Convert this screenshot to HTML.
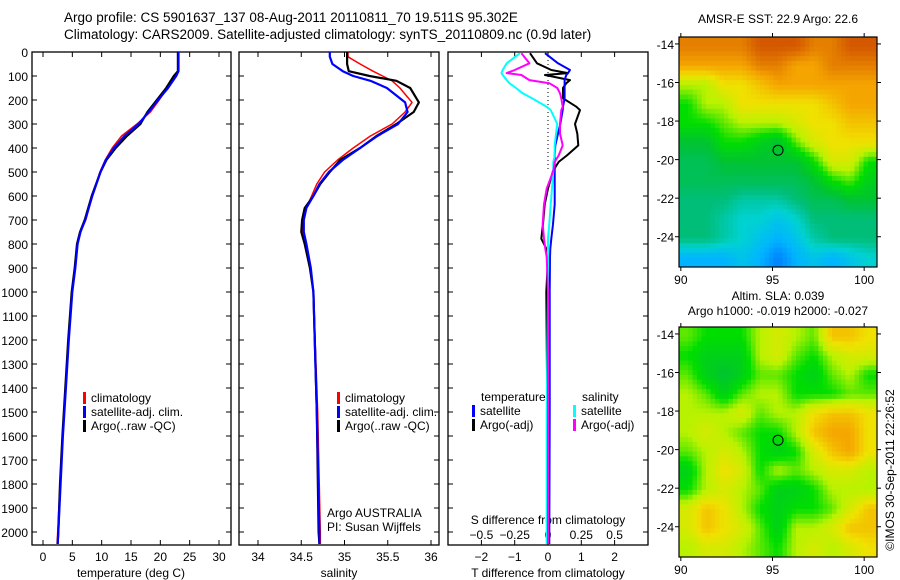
<!DOCTYPE html>
<html><head><meta charset="utf-8"><style>
html,body{margin:0;padding:0;background:#fff;}
svg{display:block;font-family:"Liberation Sans",sans-serif;}
</style></head><body>
<svg id="fig" width="900" height="580" viewBox="0 0 900 580" xmlns="http://www.w3.org/2000/svg">
<text x="64" y="22" font-size="13.5">Argo profile: CS 5901637_137 08-Aug-2011 20110811_70 19.511S 95.302E</text>
<text x="64" y="39" font-size="13.5">Climatology: CARS2009. Satellite-adjusted climatology: synTS_20110809.nc (0.9d later)</text>
<text x="778" y="23" font-size="12" text-anchor="middle">AMSR-E SST: 22.9 Argo: 22.6</text>
<text x="778" y="300" font-size="12" text-anchor="middle">Altim. SLA: 0.039</text>
<text x="778" y="315" font-size="12" text-anchor="middle">Argo h1000: -0.019 h2000: -0.027</text>
<text transform="translate(894,470) rotate(-90)" font-size="12" text-anchor="middle">©IMOS 30-Sep-2011 22:26:52</text>
</svg>
<script>
// ---------- data ----------
const tDepth = [0,80,100,150,200,250,300,350,400,450,500,600,700,750,800,900,1000,1200,1400,1600,1800,2000,2050];
const tArgo  = [23,23,22.3,21,19.4,17.8,16.6,14.3,12.4,10.8,9.8,8.3,7.1,6.3,5.8,5.4,4.9,4.3,3.8,3.3,2.9,2.6,2.5];
const tClim  = [23.1,23.1,22.4,21.2,19.8,18.3,16.0,13.4,11.8,10.6,9.7,8.4,7.3,6.4,5.9,5.4,4.9,4.3,3.9,3.3,2.9,2.5,2.4];
const tSat   = [23.1,23.1,22.7,21.3,19.6,18.0,16.3,13.9,12.1,10.7,9.8,8.4,7.2,6.4,5.9,5.5,5.0,4.4,3.9,3.4,3.0,2.6,2.5];
const sDepth = [0,20,50,80,100,120,150,210,250,300,350,400,450,500,550,600,650,700,750,800,900,1000,1500,2000,2050];
const sArgo  = [35.03,35.03,35.03,35.05,35.29,35.6,35.76,35.86,35.8,35.6,35.37,35.18,34.95,34.83,34.72,34.64,34.54,34.51,34.5,34.54,34.6,34.64,34.68,34.7,34.71];
const sClim  = [35.04,35.04,35.18,35.33,35.44,35.55,35.64,35.78,35.7,35.55,35.3,35.1,34.92,34.77,34.68,34.62,34.56,34.52,34.52,34.56,34.61,34.64,34.69,34.72,34.72];
const sSat   = [34.83,34.83,34.86,34.98,35.1,35.3,35.49,35.7,35.73,35.62,35.38,35.18,34.98,34.82,34.71,34.64,34.56,34.53,34.53,34.56,34.61,34.64,34.68,34.71,34.71];
const dDepth = [5,47,75,88,96,117,130,150,172,193,228,242,300,340,389,431,458,496,569,635,717,778,819,855,1000,1500,2000,2050];
const dTsat  = [-0.09,0.3,0.66,0.6,0.55,0.5,0.5,0.5,0.5,0.5,0.45,0.44,0.37,0.3,0.22,0.2,0.2,0.2,0.2,0.2,0.15,0.1,0.07,0.06,0.05,0.05,0.04,0.04];
const dTargo = [-0.54,-0.33,0.1,0.6,-0.09,0.66,0.55,0.45,0.45,0.45,0.85,0.96,0.81,0.88,0.91,0.57,0.32,0.15,0.0,-0.1,-0.15,-0.2,-0.05,0.0,-0.05,-0.02,0.0,0.0];
const dSsat  = [-0.21,-0.31,-0.34,-0.35,-0.34,-0.31,-0.29,-0.24,-0.19,-0.12,-0.01,0.02,0.07,0.06,0.05,0.05,0.04,0.04,0.03,0.02,0.01,0.0,0.0,0.0,0.0,-0.01,-0.01,-0.01];
const dSargo = [-0.2,-0.14,-0.25,-0.31,-0.2,-0.14,0.01,0.07,0.09,0.1,0.11,0.1,0.09,0.09,0.11,0.08,0.05,0.04,-0.01,-0.03,-0.04,-0.03,-0.02,-0.01,0.0,0.0,0.0,0.0];
const depthTicks = [0,100,200,300,400,500,600,700,800,900,1000,1100,1200,1300,1400,1500,1600,1700,1800,1900,2000];
const tempTicks = [0,5,10,15,20,25,30];
const salTicks = [34,34.5,35,35.5,36];
const tdTicks = [-2,-1,0,1,2];
const sdTicks = [-0.5,-0.25,0,0.25,0.5];
const sdLabels = ["\u22120.5","\u22120.25","0","0.25","0.5"];
const lonTicks = [90,95,100];
const latTicks = [-14,-16,-18,-20,-22,-24];
const sstGrid = [
[9.5,9.5,9.5,9.5,10,10,10,9.5,9.5,10,10],
[9,9,9,9,9.5,9.5,9,9,9.5,9.5,9.5],
[7,7,8,8,8.5,9,9,9,9,9,9],
[6,7,7,8,8,8,8,8,8.5,9,9],
[6,6,6.5,7,7,7,7.5,8,8,8.5,8.5],
[5,5,6,6,5.5,5,6.5,7.5,8,8,8],
[4.5,4.5,5,5,5,5,5,6,7.5,7.5,6],
[4.5,4.5,4.5,4.5,4.5,4.5,4.5,5,6,6.5,5.5],
[4,4,4,3.5,3.5,3.5,4,4.5,4.5,5,5],
[4,4,3.5,3,3,2.5,3,4,4,4,4],
[4,4,3.5,3,2.5,2,2.5,3.5,4,4,4],
[2,2,2,2.5,2,1,2,2.5,2,2.5,3]];
const slaGrid = [
[6.5,6,6,6,7,7.5,7,6.5,8.5,8.5,8],
[6,5.5,5.5,5.5,7,7.5,6.5,6,7,7.5,7.5],
[6.5,5.5,5,5.5,6.5,6.5,6,5.5,6.5,7,6],
[7,6.5,5.5,6.5,7,7,6,6,6,6.5,6.5],
[7,7,7,7.5,6.5,7,7,8,8.5,8.5,8],
[7,7.5,7,6.5,6,6,7,8.5,9,9,8],
[6.5,7,7.5,7,6,5.5,6,7.5,8.5,9,8],
[5.5,7,8,7.5,6,7,6.5,7,7.5,7.5,7],
[6,7,7.5,7,6.5,5.5,5.5,6,7,7,7],
[7.5,8.5,8,7,6,5.5,6,6,6.5,7.5,8.5],
[7.5,8.5,8,7.5,6.5,5.5,7,7,7.5,8.5,8.5],
[7,7.5,7.5,7,6.5,6,7,7.5,7,7.5,8]];
const argoLon = 95.302, argoLat = -19.511;

// ---------- helpers ----------
const NS="http://www.w3.org/2000/svg";
const svg=document.getElementById('fig');
function mk(tag,attrs,parent){const e=document.createElementNS(NS,tag);for(const k in attrs)e.setAttribute(k,attrs[k]);(parent||svg).appendChild(e);return e;}
function txt(s,x,y,size,anchor,parent){const t=mk('text',{x:x,y:y,'font-size':size,'text-anchor':anchor||'start'},parent);t.textContent=s;return t;}
const Y0=52, YPX=0.24;
const yD=d=>Y0+d*YPX;
const PB=545;
function lin(v0,p0,v1,p1){return v=>p0+(v-v0)*(p1-p0)/(v1-v0);}
const xT=lin(0,43,30,219);
const xS=lin(34,258,36,431);
const xTd=lin(0,548,1,581.3);
const xSd=lin(0,548,0.25,581.3);

function frame(x0,x1,name){
  const g=mk('g',{});
  
  
  mk('rect',{x:x0,y:Y0,width:x1-x0,height:PB-Y0,fill:'#fff',stroke:'#000','stroke-width':1.3},g);
  depthTicks.forEach(d=>{const y=yD(d);
    mk('line',{x1:x0,y1:y,x2:x0+5,y2:y,stroke:'#000'},g);
    mk('line',{x1:x1,y1:y,x2:x1-5,y2:y,stroke:'#000'},g);});
  return g;
}
function line(xs,ds,sc,color,w,name,g){
  const pts=xs.map((v,i)=>sc(v).toFixed(1)+','+yD(ds[i]).toFixed(1)).join(' ');
  const p=mk('polyline',{points:pts,fill:'none',stroke:color,'stroke-width':w,'stroke-linejoin':'round'},g);
  
  
}
function legend(x,y,items,g){
  items.forEach((it,i)=>{
    mk('rect',{x:x,y:y+i*14-10,width:3,height:12,fill:it[1]},g);
    const t=txt(it[0],x+8,y+i*14,12,'start',g);
    
    
  });
}

// ---------- panel 1 ----------
const g1=frame(32,231,'temperature-panel');
depthTicks.forEach(d=>{const t=txt(String(d),28,yD(d)+5,12,'end',g1);
  
  });
tempTicks.forEach(v=>{const x=xT(v);
  mk('line',{x1:x,y1:PB,x2:x,y2:PB-5,stroke:'#000'},g1);
  mk('line',{x1:x,y1:Y0,x2:x,y2:Y0+5,stroke:'#000'},g1);
  txt(String(v),x,PB+16,12,'middle',g1);});
const xl1=txt('temperature (deg C)',131,577,12,'middle',g1);


line(tClim,tDepth,xT,'#f00',1.5,'temp-climatology-line',g1);
line(tArgo,tDepth,xT,'#000',2.2,'temp-argo-line',g1);
line(tSat,tDepth,xT,'#00f',2.2,'temp-satellite-line',g1);
legend(83,402,[['climatology','#f00'],['satellite-adj. clim.','#00f'],['Argo(..raw -QC)','#000']],g1);

// ---------- panel 2 ----------
const g2=frame(239,439,'salinity-panel');
salTicks.forEach(v=>{const x=xS(v);
  mk('line',{x1:x,y1:PB,x2:x,y2:PB-5,stroke:'#000'},g2);
  mk('line',{x1:x,y1:Y0,x2:x,y2:Y0+5,stroke:'#000'},g2);
  txt(String(v),x,PB+16,12,'middle',g2);});
const xl2=txt('salinity',339,577,12,'middle',g2);


line(sClim,sDepth,xS,'#f00',1.5,'sal-climatology-line',g2);
line(sArgo,sDepth,xS,'#000',2.2,'sal-argo-line',g2);
line(sSat,sDepth,xS,'#00f',2.2,'sal-satellite-line',g2);
legend(337,402,[['climatology','#f00'],['satellite-adj. clim.','#00f'],['Argo(..raw -QC)','#000']],g2);
txt('Argo AUSTRALIA',327,517,12,'start',g2);
txt('PI: Susan Wijffels',327,531,12,'start',g2);

// ---------- panel 3 ----------
const g3=frame(448,648,'difference-panel');
tdTicks.forEach(v=>{const x=xTd(v);
  mk('line',{x1:x,y1:PB,x2:x,y2:PB-5,stroke:'#000'},g3);
  mk('line',{x1:x,y1:Y0,x2:x,y2:Y0+5,stroke:'#000'},g3);
  txt(String(v).replace('-','\u2212'),x,PB+16,12,'middle',g3);});
sdTicks.forEach((v,i)=>{txt(sdLabels[i],xSd(v),539,12,'middle',g3);});
txt('S difference from climatology',548,524,12,'middle',g3);
const xl3=txt('T difference from climatology',548,577,12,'middle',g3);


mk('line',{x1:xTd(0),y1:Y0,x2:xTd(0),y2:yD(500),stroke:'#000','stroke-dasharray':'1,3'},g3);
line(dTargo,dDepth,xTd,'#000',2,'tdiff-argo-line',g3);
line(dTsat,dDepth,xTd,'#00f',2,'tdiff-satellite-line',g3);
line(dSsat,dDepth,xSd,'#0ff',2,'sdiff-satellite-line',g3);
line(dSargo,dDepth,xSd,'#f0f',2,'sdiff-argo-line',g3);
txt('temperature',481,401,12,'start',g3);
txt('salinity',582,401,12,'start',g3);
legend(472,415,[['satellite','#00f'],['Argo(-adj)','#000']],g3);
legend(573,415,[['satellite','#0ff'],['Argo(-adj)','#f0f']],g3);

// ---------- maps ----------
const cmapStops=[[0,[0,40,200]],[1,[0,130,255]],[2,[0,180,255]],[3,[0,210,210]],[4,[0,190,120]],[5,[0,195,50]],[6,[0,222,0]],[7,[185,242,0]],[8,[240,225,0]],[9,[245,165,0]],[10,[212,88,0]]];
function cmap(v){v=Math.max(0,Math.min(10,v));const i=Math.min(9,Math.floor(v));const f=v-i;
  const a=cmapStops[i][1],b=cmapStops[i+1][1];
  return 'rgb('+a.map((c,k)=>Math.round(c+(b[k]-c)*f)).join(',')+')';}
function sample(grid,r,c){ // bilinear in cell-center coordinates
  const nr=grid.length,nc=grid[0].length;
  r=Math.max(0,Math.min(nr-1,r));c=Math.max(0,Math.min(nc-1,c));
  const r0=Math.floor(r),c0=Math.floor(c),r1=Math.min(nr-1,r0+1),c1=Math.min(nc-1,c0+1);
  const fr=r-r0,fc=c-c0;
  return grid[r0][c0]*(1-fr)*(1-fc)+grid[r0][c1]*(1-fr)*fc+grid[r1][c0]*fr*(1-fc)+grid[r1][c1]*fr*fc;
}
function mapPanel(grid,top,bottom,name,ptName){
  const x0=679,x1=877,lon0=89.9,lon1=100.7,lat0=-13.64,lat1=-25.57;
  const xL=lin(lon0,x0,lon1,x1), yL=lin(lat0,top,lat1,bottom);
  const g=mk('g',{});
  
  
  const nr=grid.length,nc=grid[0].length,S=4;
  const dlon=(lon1-lon0)/(nc*S), dlat=(lat1-lat0)/(nr*S);
  for(let r=0;r<nr*S;r++)for(let c=0;c<nc*S;c++){
    const v=sample(grid,(r+0.5)/S-0.5,(c+0.5)/S-0.5);
    const xa=xL(lon0+c*dlon), xb=xL(lon0+(c+1)*dlon), ya=yL(lat0+r*dlat), yb=yL(lat0+(r+1)*dlat);
    const cell=mk('rect',{x:xa.toFixed(2),y:ya.toFixed(2),width:(xb-xa+0.5).toFixed(2),height:(yb-ya+0.5).toFixed(2),fill:cmap(v)},g);
    
    
  }
  mk('rect',{x:x0,y:top,width:x1-x0,height:bottom-top,fill:'none',stroke:'#000','stroke-width':1.2},g);
  lonTicks.forEach(l=>{const x=xL(l);
    mk('line',{x1:x,y1:bottom,x2:x,y2:bottom+4,stroke:'#000'},g);
    mk('line',{x1:x,y1:top,x2:x,y2:top-4,stroke:'#000'},g);
    txt(String(l),x,bottom+17,12,'middle',g);});
  latTicks.forEach(l=>{const y=yL(l);
    mk('line',{x1:x0,y1:y,x2:x0-4,y2:y,stroke:'#000'},g);
    mk('line',{x1:x1,y1:y,x2:x1+4,y2:y,stroke:'#000'},g);
    txt(String(l),x0-5,y+5,12,'end',g);});
  const c=mk('circle',{cx:xL(argoLon),cy:yL(argoLat),r:5,fill:'none',stroke:'#000','stroke-width':1},g);
  
  
}
mapPanel(sstGrid,37,267,'sst-map','sst-argo-location');
mapPanel(slaGrid,327,557,'sla-map','sla-argo-location');
</script>
</body></html>
